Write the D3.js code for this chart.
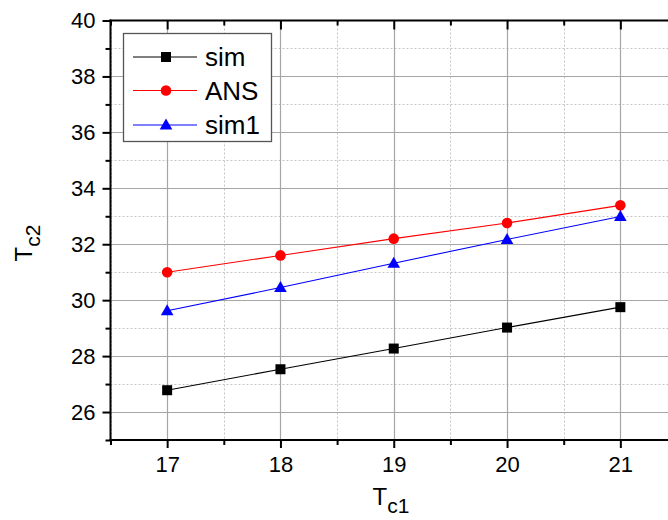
<!DOCTYPE html>
<html><head><meta charset="utf-8">
<script src="https://cdn.jsdelivr.net/npm/d3@7"></script>
<style>body{margin:0;background:#fff}svg{display:block;font-family:"Liberation Sans",Arial,sans-serif}</style>
</head><body><svg id="c" width="668" height="520"></svg>
<script>
const xValues = [17, 18, 19, 20, 21];
const simValues = [26.78, 27.53, 28.27, 29.02, 29.75];
const ansValues = [31.0, 31.6, 32.2, 32.76, 33.39];
const sim1Values = [29.62, 30.45, 31.32, 32.17, 32.99];
const xMajorTicks = [17, 18, 19, 20, 21];
const xMinorTicks = [16.5, 17.5, 18.5, 19.5, 20.5, 21.5];
const yMajorTicks = [26, 28, 30, 32, 34, 36, 38, 40];
const yMinorTicks = [25, 27, 29, 31, 33, 35, 37, 39];
const seriesNames = ["sim", "ANS", "sim1"];
const seriesColors = ["#000000", "#ff0000", "#0000ff"];
const seriesShapes = ["square", "circle", "triangle"];
const seriesData = [simValues, ansValues, sim1Values];

const svg = d3.select("#c");
const L = 110.5, T = 20.5, B = 440;
const x = d3.scaleLinear().domain([16.5, 21.5]).range([L, 677]);
const y = d3.scaleLinear().domain([25, 40]).range([B, T]);

// grid
const g = svg.append("g");
g.selectAll(".gminx").data(xMinorTicks).join("line")
  .attr("x1", d => Math.round(x(d)) + 0.5).attr("x2", d => Math.round(x(d)) + 0.5)
  .attr("y1", T).attr("y2", B).attr("stroke", "#c4c4c4").attr("stroke-dasharray", "2,2");
g.selectAll(".gminy").data(yMinorTicks.filter(d => d > 25)).join("line")
  .attr("y1", d => Math.round(y(d)) + 0.5).attr("y2", d => Math.round(y(d)) + 0.5)
  .attr("x1", L).attr("x2", 677).attr("stroke", "#c4c4c4").attr("stroke-dasharray", "2,2");
g.selectAll(".gmajx").data(xMajorTicks).join("line")
  .attr("x1", d => Math.round(x(d)) + 0.5).attr("x2", d => Math.round(x(d)) + 0.5)
  .attr("y1", T).attr("y2", B).attr("stroke", "#a6a6a6").attr("stroke-width", 1.2);
g.selectAll(".gmajy").data(yMajorTicks.filter(d => d < 40)).join("line")
  .attr("y1", d => Math.round(y(d)) + 0.5).attr("y2", d => Math.round(y(d)) + 0.5)
  .attr("x1", L).attr("x2", 677).attr("stroke", "#a6a6a6").attr("stroke-width", 1.2);

// axes
function styleAxis(sel) {
  sel.select(".domain").remove();
  sel.selectAll("line").attr("stroke", "#000").attr("stroke-width", 2);
  sel.selectAll("text").attr("fill", "#000").attr("font-size", 22)
    .attr("font-family", "'Liberation Sans', Arial, sans-serif");
}
svg.append("g").attr("transform", `translate(0,${B})`)
  .call(d3.axisBottom(x).tickValues(xMajorTicks).tickSize(8).tickPadding(8).tickFormat(d3.format("d")))
  .call(styleAxis);
svg.append("g").attr("transform", `translate(0,${B})`)
  .call(d3.axisBottom(x).tickValues(xMinorTicks).tickSize(5).tickFormat(""))
  .call(styleAxis);
svg.append("g").attr("transform", `translate(0,${T})`)
  .call(d3.axisBottom(x).tickValues(xMajorTicks).tickSize(9).tickFormat(""))
  .call(styleAxis);
svg.append("g").attr("transform", `translate(0,${T})`)
  .call(d3.axisBottom(x).tickValues(xMinorTicks).tickSize(5).tickFormat(""))
  .call(styleAxis);
svg.append("g").attr("transform", `translate(${L},0)`)
  .call(d3.axisLeft(y).tickValues(yMajorTicks).tickSize(8).tickPadding(7).tickFormat(d3.format("d")))
  .call(styleAxis);
svg.append("g").attr("transform", `translate(${L},0)`)
  .call(d3.axisLeft(y).tickValues(yMinorTicks).tickSize(5).tickFormat(""))
  .call(styleAxis);
// frame
svg.append("line").attr("x1", L).attr("x2", L).attr("y1", T - 1).attr("y2", B + 1).attr("stroke", "#000").attr("stroke-width", 2);
svg.append("line").attr("x1", L - 1).attr("x2", 677).attr("y1", B).attr("y2", B).attr("stroke", "#000").attr("stroke-width", 2);
svg.append("line").attr("x1", L - 1).attr("x2", 677).attr("y1", T).attr("y2", T).attr("stroke", "#000").attr("stroke-width", 2);

// markers
function marker(sel, shape, color) {
  if (shape === "square") sel.append("rect").attr("x", -5).attr("y", -5).attr("width", 10).attr("height", 10).attr("fill", color);
  else if (shape === "circle") sel.append("circle").attr("r", 5.3).attr("fill", color);
  else sel.append("path").attr("d", "M0,-6.5L6.3,4.5L-6.3,4.5Z").attr("fill", color);
}
const line = d3.line().x(d => x(d[0])).y(d => y(d[1]));
seriesData.forEach((vals, i) => {
  const pts = xValues.map((xv, j) => [xv, vals[j]]);
  svg.append("path").datum(pts).attr("d", line).attr("fill", "none")
    .attr("stroke", seriesColors[i]).attr("stroke-width", 1.1);
  pts.forEach(p => {
    const m = svg.append("g").attr("transform", `translate(${x(p[0])},${y(p[1])})`);
    marker(m, seriesShapes[i], seriesColors[i]);
  });
});

// legend
const lg = svg.append("g");
lg.append("rect").attr("x", 123.5).attr("y", 33.5).attr("width", 148).attr("height", 108)
  .attr("fill", "#fff").attr("stroke", "#555").attr("stroke-width", 1.3);
const rowsY = [57, 90.5, 125];
seriesNames.forEach((n, i) => {
  lg.append("line").attr("x1", 133).attr("x2", 197).attr("y1", rowsY[i]).attr("y2", rowsY[i])
    .attr("stroke", seriesColors[i]).attr("stroke-width", 1.1);
  marker(lg.append("g").attr("transform", `translate(166,${rowsY[i]})`), seriesShapes[i], seriesColors[i]);
  lg.append("text").attr("x", 205).attr("y", rowsY[i] + 9).attr("font-size", 26).attr("fill", "#000").text(n);
});

// axis titles
const xt = svg.append("text").attr("x", 391).attr("y", 505).attr("text-anchor", "middle").attr("font-size", 24).attr("fill", "#000");
xt.append("tspan").text("T");
xt.append("tspan").attr("font-size", 21).attr("dy", 8).text("c1");
const yt = svg.append("text").attr("transform", "translate(32,243) rotate(-90)").attr("text-anchor", "middle").attr("font-size", 24).attr("fill", "#000");
yt.append("tspan").text("T");
yt.append("tspan").attr("font-size", 21).attr("dy", 8).text("c2");
</script></body></html>
